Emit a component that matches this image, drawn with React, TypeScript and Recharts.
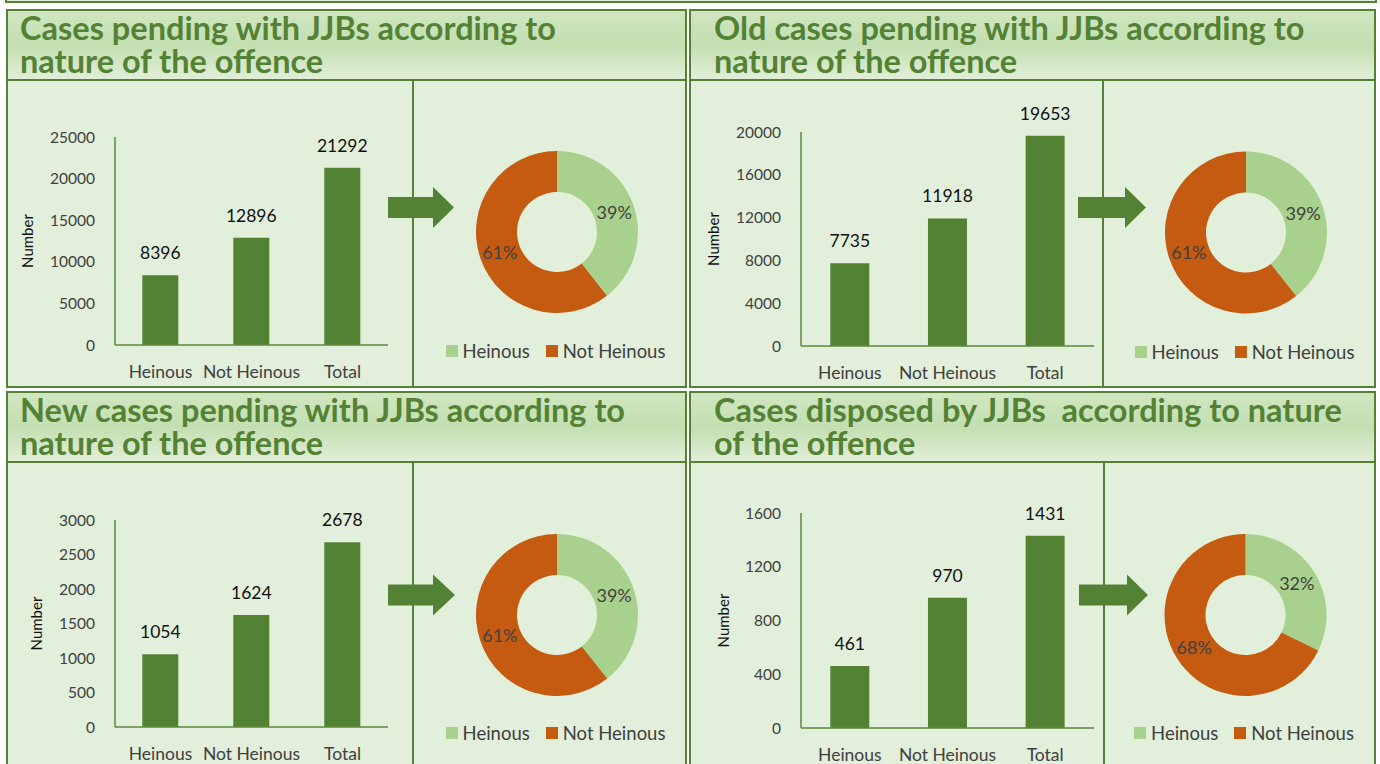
import React from 'react';
import { BarChart, Bar, XAxis, YAxis, PieChart, Pie, Cell, LabelList, Legend } from 'recharts';

// ---------- data ----------
const categories = ['Heinous', 'Not Heinous', 'Total'];
const pendingValues = [8396, 12896, 21292];
const oldPendingValues = [7735, 11918, 19653];
const newPendingValues = [1054, 1624, 2678];
const disposedValues = [461, 970, 1431];

const pendingTicks = [0, 5000, 10000, 15000, 20000, 25000];
const oldTicks = [0, 4000, 8000, 12000, 16000, 20000];
const newTicks = [0, 500, 1000, 1500, 2000, 2500, 3000];
const disposedTicks = [0, 400, 800, 1200, 1600];

const shareNames = ['Heinous', 'Not Heinous'];

const pendingTitle = ['Cases pending with JJBs according to', 'nature of the offence'];
const oldTitle = ['Old cases pending with JJBs according to', 'nature of the offence'];
const newTitle = ['New cases pending with JJBs according to', 'nature of the offence'];
const disposedTitle = ['Cases disposed by JJBs  according to nature', 'of the offence'];

// ---------- styles ----------
const GREEN = '#548235';
const AXIS = '#5b8a3c';
const BODY_BG = '#e2efda';
const SHARE_COLORS = ['#a9d18e', '#c55a11'];
const FONT = 'Lato, "Open Sans", sans-serif';
const TITLE_SIZE = 32.5;

type PanelCfg = {
  key: string;
  titleLines: string[];
  values: number[];
  ticks: number[];
  left: number;
  top: number;
  width: number;
  height: number;
  titleLeft: number;
  divider: number;
  plotTop: number;
  plotBottom: number;
  axisX: number;
  axisEnd: number;
  numberX: number;
  pieCx: number;
  pieCy: number;
  legendY: number;
  arrow: { x0: number; xs: number; tip: number; cy: number };
};

const panels: PanelCfg[] = [
  {
    key: 'pending', titleLines: pendingTitle, values: pendingValues, ticks: pendingTicks,
    left: 6, top: 9, width: 681, height: 379, titleLeft: 12, divider: 412,
    plotTop: 137, plotBottom: 345, axisX: 115, axisEnd: 388, numberX: 27,
    pieCx: 557, pieCy: 232, legendY: 351,
    arrow: { x0: 388, xs: 433, tip: 454, cy: 207.5 },
  },
  {
    key: 'old', titleLines: oldTitle, values: oldPendingValues, ticks: oldTicks,
    left: 689, top: 9, width: 687, height: 379, titleLeft: 23, divider: 1102,
    plotTop: 132, plotBottom: 346, axisX: 801, axisEnd: 1094, numberX: 713,
    pieCx: 1246, pieCy: 232.5, legendY: 352,
    arrow: { x0: 1078, xs: 1125, tip: 1146, cy: 207.5 },
  },
  {
    key: 'new', titleLines: newTitle, values: newPendingValues, ticks: newTicks,
    left: 6, top: 391, width: 681, height: 380, titleLeft: 12, divider: 412,
    plotTop: 520, plotBottom: 727, axisX: 115, axisEnd: 388, numberX: 36,
    pieCx: 557, pieCy: 615, legendY: 733,
    arrow: { x0: 388, xs: 433, tip: 455, cy: 595 },
  },
  {
    key: 'disposed', titleLines: disposedTitle, values: disposedValues, ticks: disposedTicks,
    left: 689, top: 391, width: 687, height: 380, titleLeft: 23, divider: 1103,
    plotTop: 513, plotBottom: 728, axisX: 801, axisEnd: 1094, numberX: 723,
    pieCx: 1245.5, pieCy: 615, legendY: 733,
    arrow: { x0: 1079, xs: 1127, tip: 1148, cy: 595 },
  },
];

const HEADER_H = 72; // from panel top to body top

const renderPct = (p: any) => {
  const RAD = Math.PI / 180;
  const r = (p.innerRadius + p.outerRadius) / 2;
  const x = p.cx + r * Math.cos(-p.midAngle * RAD);
  const y = p.cy + r * Math.sin(-p.midAngle * RAD);
  return (
    <text x={x} y={y} textAnchor="middle" dominantBaseline="central" fill="#404040" fontSize={18} fontFamily={FONT}>
      {`${Math.round(p.percent * 100)}%`}
    </text>
  );
};

function PanelFrame({ cfg }: { cfg: PanelCfg }) {
  return (
    <div
      style={{
        position: 'absolute', left: cfg.left, top: cfg.top, width: cfg.width, height: cfg.height,
        boxSizing: 'border-box', border: `2px solid ${GREEN}`, background: BODY_BG,
      }}
    >
      <div
        style={{
          position: 'absolute', left: 0, top: 0, right: 0, height: HEADER_H - 2, boxSizing: 'border-box',
          borderBottom: `2px solid ${GREEN}`,
          background: 'linear-gradient(to bottom, #d0e6c1 0%, #c3dfb1 50%, #e1eed7 100%)',
        }}
      >
        <div
          style={{
            position: 'absolute', left: cfg.titleLeft, top: 0, color: GREEN, fontFamily: FONT,
            fontWeight: 700, fontSize: TITLE_SIZE, lineHeight: '33px', whiteSpace: 'pre',
          }}
        >
          {cfg.titleLines.map((l) => (
            <div key={l}>{l}</div>
          ))}
        </div>
      </div>
      <div
        style={{
          position: 'absolute', left: cfg.divider - cfg.left - 2, top: HEADER_H - 4, width: 2, bottom: 0,
          background: GREEN,
        }}
      />
    </div>
  );
}

function PanelCharts({ cfg }: { cfg: PanelCfg }) {
  const chartLeft = cfg.left + 2;
  const chartTop = cfg.top + HEADER_H;
  const chartW = cfg.divider - chartLeft;
  const chartH = 306;
  const yAxisW = 40;
  const xAxisH = 30;
  const barData = categories.map((c, i) => ({ name: c, value: cfg.values[i] }));
  const pieData = shareNames.map((n, i) => ({ name: n, value: cfg.values[i] }));
  const maxTick = cfg.ticks[cfg.ticks.length - 1];

  const pieLeft = cfg.divider + 2;
  const pieW = cfg.left + cfg.width - 2 - pieLeft;
  const pieH = 300;
  const legendW = 240;

  const a = cfg.arrow;
  const arrowPts = [
    [a.x0, a.cy - 10.5], [a.xs, a.cy - 10.5], [a.xs, a.cy - 20.5], [a.tip, a.cy],
    [a.xs, a.cy + 20.5], [a.xs, a.cy + 10.5], [a.x0, a.cy + 10.5],
  ].map((p) => p.join(',')).join(' ');

  return (
    <>
      <div style={{ position: 'absolute', left: chartLeft, top: chartTop }}>
        <BarChart
          width={chartW}
          height={chartH}
          data={barData}
          barCategoryGap="30%"
          margin={{
            top: cfg.plotTop - chartTop,
            bottom: chartTop + chartH - cfg.plotBottom - xAxisH,
            left: cfg.axisX - chartLeft - yAxisW,
            right: chartLeft + chartW - cfg.axisEnd,
          }}
        >
          <XAxis
            dataKey="name"
            height={xAxisH}
            axisLine={{ stroke: AXIS, strokeWidth: 1.5 }}
            tickLine={false}
            tickSize={0}
            tickMargin={21}
            interval={0}
            tick={{ fill: '#404040', fontSize: 17.5, fontFamily: FONT }}
          />
          <YAxis
            type="number"
            width={yAxisW}
            domain={[0, maxTick]}
            ticks={cfg.ticks}
            interval={0}
            axisLine={{ stroke: AXIS, strokeWidth: 1.5 }}
            tickLine={false}
            tickSize={0}
            tickMargin={20}
            tick={{ fill: '#404040', fontSize: 15.5, fontFamily: FONT }}
            label={() => {
              const x = cfg.numberX - chartLeft;
              const y = (cfg.plotTop + cfg.plotBottom) / 2 - chartTop;
              return (
                <text
                  x={x} y={y} transform={`rotate(-90 ${x} ${y})`} textAnchor="middle"
                  dominantBaseline="central" fill="#111" fontSize={15} fontFamily={FONT}
                >
                  Number
                </text>
              );
            }}
          />
          <Bar dataKey="value" fill={GREEN} isAnimationActive={false}>
            <LabelList dataKey="value" position="top" offset={16} fill="#111" fontSize={17.5} fontFamily={FONT} />
          </Bar>
        </BarChart>
      </div>
      <div style={{ position: 'absolute', left: pieLeft, top: chartTop }}>
        <PieChart width={pieW} height={pieH} margin={{ top: 0, right: 0, bottom: 0, left: 0 }}>
          <Pie
            data={pieData}
            dataKey="value"
            nameKey="name"
            cx={cfg.pieCx - pieLeft}
            cy={cfg.pieCy - chartTop}
            innerRadius={40}
            outerRadius={81}
            startAngle={90}
            endAngle={-270}
            stroke="none"
            label={renderPct}
            labelLine={false}
            isAnimationActive={false}
          >
            {pieData.map((d, i) => (
              <Cell key={d.name} fill={SHARE_COLORS[i]} />
            ))}
          </Pie>
          <Legend
            width={legendW}
            content={() => (
              <div
                style={{
                  display: 'flex', justifyContent: 'center', alignItems: 'center', fontFamily: FONT,
                  fontSize: 18.5, color: '#404040', lineHeight: '22px', whiteSpace: 'nowrap',
                }}
              >
                {shareNames.map((n, i) => (
                  <div key={n} style={{ display: 'flex', alignItems: 'center', marginRight: i === 0 ? 16 : 0 }}>
                    <span
                      style={{ display: 'inline-block', width: 12, height: 12, background: SHARE_COLORS[i], marginRight: 5 }}
                    />
                    {n}
                  </div>
                ))}
              </div>
            )}
            wrapperStyle={{
              position: 'absolute', left: cfg.pieCx - pieLeft - 1.5 - legendW / 2,
              top: cfg.legendY - chartTop - 11, bottom: 'auto', width: legendW,
            }}
          />
        </PieChart>
      </div>
      <svg
        width={1380}
        height={764}
        style={{ position: 'absolute', left: 0, top: 0, pointerEvents: 'none' }}
      >
        <polygon points={arrowPts} fill={GREEN} />
      </svg>
    </>
  );
}

export default function App() {
  return (
    <div
      style={{
        position: 'absolute', left: 0, top: 0, width: 1380, height: 764, overflow: 'hidden',
        background: '#ffffff', fontFamily: FONT,
      }}
    >
      <div
        style={{
          position: 'absolute', left: 5, top: -20, width: 1372, height: 23, boxSizing: 'border-box',
          border: `2px solid ${GREEN}`, background: BODY_BG,
        }}
      />
      {panels.map((p) => (
        <PanelFrame key={p.key} cfg={p} />
      ))}
      {panels.map((p) => (
        <PanelCharts key={p.key} cfg={p} />
      ))}
    </div>
  );
}
